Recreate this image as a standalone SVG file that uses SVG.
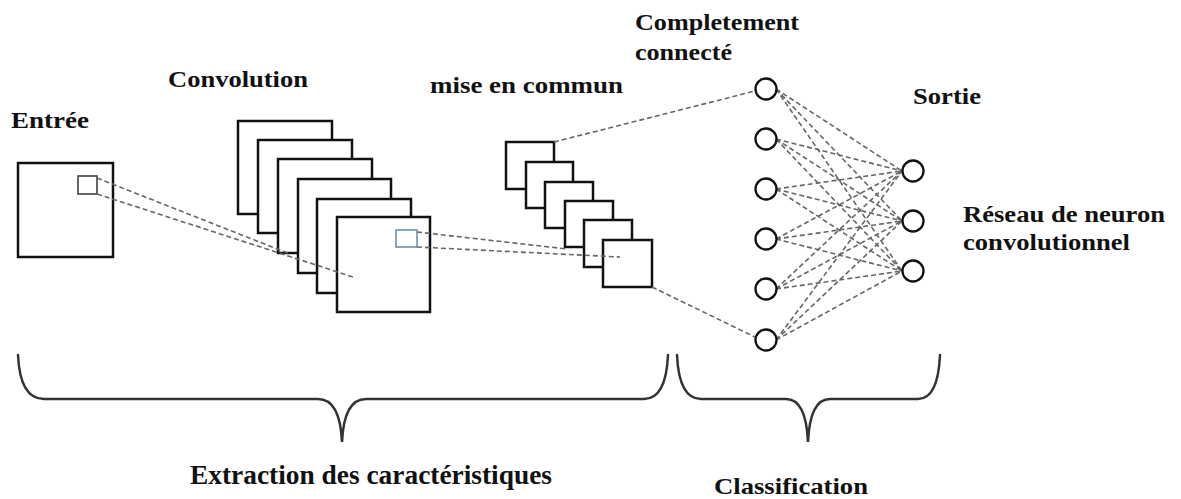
<svg xmlns="http://www.w3.org/2000/svg" width="1181" height="499" viewBox="0 0 1181 499">
<style>
.box{fill:#fff;stroke:#111;stroke-width:2.5}
.neu{fill:#fff;stroke:#111;stroke-width:2.3}
.dash{fill:none;stroke:#666;stroke-width:1.6;stroke-dasharray:5 3}
.brace{fill:none;stroke:#333;stroke-width:2.5;stroke-linecap:round}
text{font-family:'Liberation Serif','DejaVu Serif','Times New Roman',serif;font-weight:700;font-size:24px;fill:#111}
</style>
<rect width="1181" height="499" fill="#fff"/>
<g id="input">
<rect class="box" x="18" y="163" width="95" height="94"/>
<rect x="78" y="176" width="19" height="18" fill="none" stroke="#555" stroke-width="1.8"/>
<text x="11" y="128" textLength="78" lengthAdjust="spacingAndGlyphs">Entrée</text>
</g>
<g id="convolution">
<rect class="box" x="238" y="121" width="94" height="93"/>
<rect class="box" x="258" y="140" width="94" height="93"/>
<rect class="box" x="278" y="159" width="94" height="94"/>
<rect class="box" x="298" y="179" width="93" height="94"/>
<rect class="box" x="317" y="199" width="94" height="94"/>
<rect class="box" x="337" y="217" width="93" height="95"/>
<rect x="396" y="230" width="21" height="17" fill="none" stroke="#7f9db5" stroke-width="1.8"/>
<text x="168" y="87" textLength="140" lengthAdjust="spacingAndGlyphs">Convolution</text>
</g>
<g id="pooling">
<rect class="box" x="506" y="142" width="48" height="47"/>
<rect class="box" x="526" y="162" width="47" height="46"/>
<rect class="box" x="545" y="182" width="48" height="46"/>
<rect class="box" x="565" y="201" width="48" height="46"/>
<rect class="box" x="584" y="220" width="48" height="47"/>
<rect class="box" x="603" y="240" width="49" height="47"/>
<text x="430" y="93" textLength="193" lengthAdjust="spacingAndGlyphs">mise en commun</text>
</g>
<g id="connectors">
<line class="dash" x1="97" y1="178" x2="290" y2="254"/>
<line class="dash" x1="97" y1="194" x2="353" y2="277"/>
<line class="dash" x1="417" y1="232" x2="567" y2="249"/>
<line class="dash" x1="417" y1="247" x2="620" y2="257"/>
<line class="dash" x1="554" y1="142" x2="755" y2="91"/>
<line class="dash" x1="652" y1="287" x2="755" y2="337"/>
<g id="fc-lines">
<line class="dash" x1="776" y1="89" x2="902" y2="171"/>
<line class="dash" x1="776" y1="89" x2="902" y2="221"/>
<line class="dash" x1="776" y1="89" x2="902" y2="271"/>
<line class="dash" x1="776" y1="139" x2="902" y2="171"/>
<line class="dash" x1="776" y1="139" x2="902" y2="221"/>
<line class="dash" x1="776" y1="139" x2="902" y2="271"/>
<line class="dash" x1="776" y1="189" x2="902" y2="171"/>
<line class="dash" x1="776" y1="189" x2="902" y2="221"/>
<line class="dash" x1="776" y1="189" x2="902" y2="271"/>
<line class="dash" x1="776" y1="239" x2="902" y2="171"/>
<line class="dash" x1="776" y1="239" x2="902" y2="221"/>
<line class="dash" x1="776" y1="239" x2="902" y2="271"/>
<line class="dash" x1="776" y1="289" x2="902" y2="171"/>
<line class="dash" x1="776" y1="289" x2="902" y2="221"/>
<line class="dash" x1="776" y1="289" x2="902" y2="271"/>
<line class="dash" x1="776" y1="340" x2="902" y2="171"/>
<line class="dash" x1="776" y1="340" x2="902" y2="221"/>
<line class="dash" x1="776" y1="340" x2="902" y2="271"/>
</g>
</g>
<g id="fully-connected">
<circle class="neu" cx="766" cy="89" r="10.5"/>
<circle class="neu" cx="766" cy="139" r="10.5"/>
<circle class="neu" cx="766" cy="189" r="10.5"/>
<circle class="neu" cx="766" cy="239" r="10.5"/>
<circle class="neu" cx="766" cy="289" r="10.5"/>
<circle class="neu" cx="766" cy="340" r="10.5"/>
<text x="635" y="30" textLength="164" lengthAdjust="spacingAndGlyphs">Completement</text>
<text x="635" y="60" textLength="97" lengthAdjust="spacingAndGlyphs">connecté</text>
</g>
<g id="output">
<circle class="neu" cx="913" cy="171" r="10.5"/>
<circle class="neu" cx="913" cy="221" r="10.5"/>
<circle class="neu" cx="913" cy="271" r="10.5"/>
<text x="913" y="104" textLength="68" lengthAdjust="spacingAndGlyphs">Sortie</text>
</g>
<g id="cnn-label">
<text x="963" y="222" textLength="202" lengthAdjust="spacingAndGlyphs">Réseau de neuron</text>
<text x="963" y="250" textLength="167" lengthAdjust="spacingAndGlyphs">convolutionnel</text>
</g>
<g id="feature-extraction">
<path class="brace" d="M18,355 Q20,399 44,399 L318,399 Q340,399 342,442 Q344,399 366,399 L644,399 Q666,399 668,355"/>
<text x="190" y="484" style="font-size:27px" textLength="362" lengthAdjust="spacingAndGlyphs">Extraction des caractéristiques</text>
</g>
<g id="classification">
<path class="brace" d="M677,355 Q679,399 701,399 L786,399 Q806,399 808,442 Q810,399 830,399 L918,399 Q938,399 940,355"/>
<text x="714" y="494" textLength="154" lengthAdjust="spacingAndGlyphs">Classification</text>
</g>
</svg>
